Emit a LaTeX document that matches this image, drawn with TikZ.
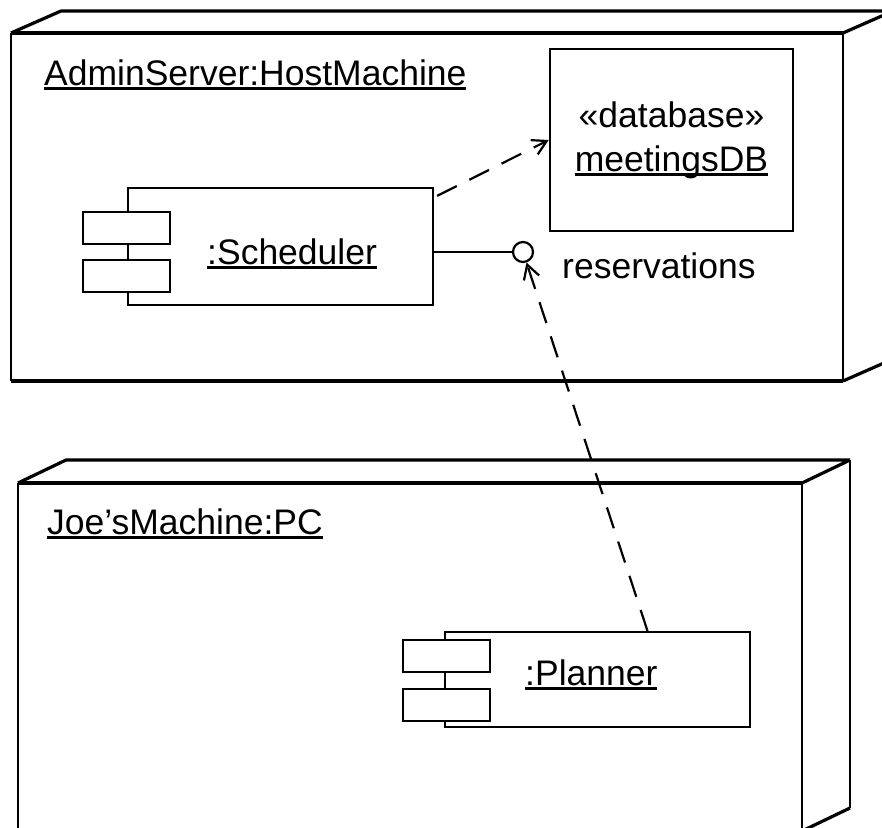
\documentclass[tikz,border=0pt]{standalone}
\usepackage{fontspec}
\setmainfont{Liberation Sans}
\usepackage{tikz}
\usetikzlibrary{arrows.meta}
\usetikzlibrary{calc}
\usetikzlibrary{positioning}

% underlined instance name
\newcommand{\ulname}[1]{\setbox0\hbox{#1}\rlap{\rule[-5pt]{\wd0}{2.8pt}}\box0}

\begin{document}
\begin{tikzpicture}[x=1pt, y=-1pt, >={Straight Barb[length=14pt,width=16pt]},
  font=\fontsize{35.5}{40}\selectfont,
  edge/.style={line width=3.2pt, line join=round},
  side/.style={line width=1.8pt},
  part/.style={draw, line width=2.2pt, fill=white, minimum width=87pt, minimum height=32pt, inner sep=0pt},
  comp/.style={draw, line width=2.2pt, minimum width=305pt, inner sep=0pt},
  dep/.style={->, line width=2.2pt, dash pattern=on 22pt off 14pt},
  lbl/.style={anchor=base west, inner sep=0pt}]

  \useasboundingbox (0,0) rectangle (882,827);

%%%%%%%%%%%% AdminServer node
  \draw[edge] (11,33) -- (843,33) (11,381) -- (843,381);
  \draw[edge] (11,33) -- (61,11) -- (893,11) (843,33) -- (893,11) (843,381) -- (893,359);
  \draw[side] (11,33) -- (11,381) (843,33) -- (843,381) (893,11) -- (893,359);
  \node[lbl] (admin) at (44,85) {\ulname{AdminServer:HostMachine}};

  \node[draw, line width=2.6pt, minimum width=243pt, minimum height=182pt, align=center]
    (db) at (671.5,140) {«database»\\[4pt]\ulname{meetingsDB}};

  \node[comp, minimum height=117pt] (sched) at (280.5,246.5) {};
  \foreach \y/\n in {228/1, 276/2}
    \node[part] (sp\n) at (126.5,\y) {};
  \node[lbl] (schedname) at (207,264) {\ulname{:Scheduler}};

  \node[draw, circle, line width=2.2pt, minimum size=20pt, inner sep=0pt] (iface) at (523,252) {};
  \draw[line width=2.2pt] (sched.east |- iface) -- (iface);
  \node[lbl] (resv) at (562,278) {reservations};

  \draw[dep] ($(sched.north east)+(3,9)$) -- (db.west);

%%%%%%%%%%%% Joe's PC node
  \draw[edge] (18,483) -- (802,483) (802,831) -- (18,831);
  \draw[edge] (18,483) -- (66,460) -- (850,460) (802,483) -- (850,460) (802,831) -- (850,808);
  \draw[side] (18,483) -- (18,831) (802,483) -- (802,831) (850,460) -- (850,808);
  \node[lbl] (joe) at (47,534) {\ulname{Joe'sMachine:PC}};

  \node[comp, minimum height=95pt] (plan) at (597.5,679.5) {};
  \foreach \y/\n in {656/1, 705/2}
    \node[part] (pp\n) at (446.5,\y) {};
  \node[lbl] (planname) at (525,685) {\ulname{:Planner}};

  \draw[dep] ($(plan.north)+(50,0)$) -- (iface);
\end{tikzpicture}
\end{document}
